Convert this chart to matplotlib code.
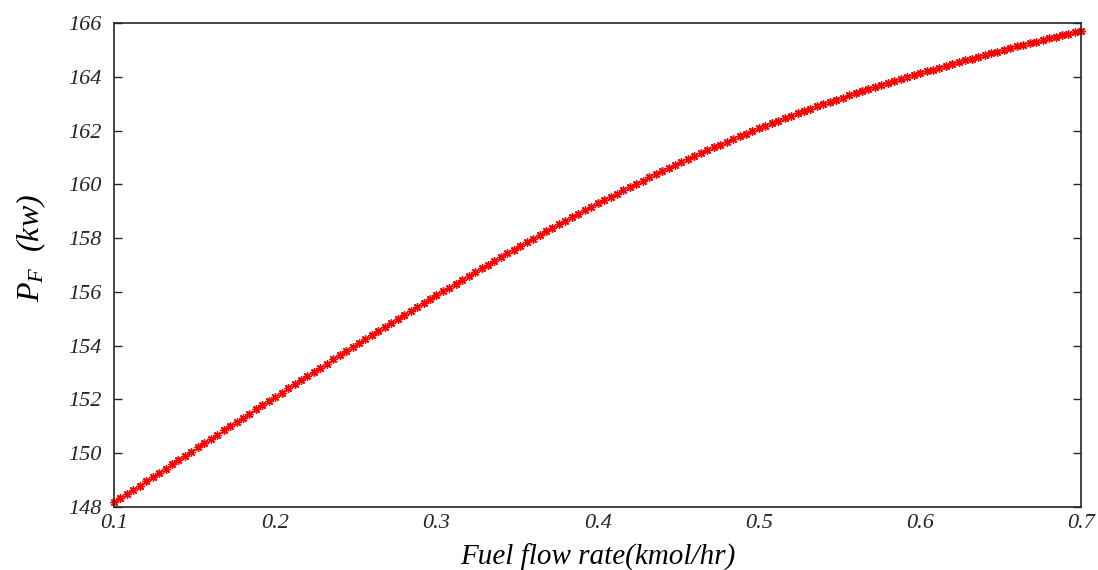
import numpy as np
import matplotlib
matplotlib.use("Agg")
from matplotlib import pyplot as plt

plt.rcParams["font.family"] = "Liberation Serif"
plt.rcParams["font.style"] = "italic"
plt.rcParams["mathtext.fontset"] = "custom"
plt.rcParams["mathtext.it"] = "Liberation Serif:italic"
plt.rcParams["mathtext.rm"] = "Liberation Serif:italic"

# Fuel flow rate from 0.1 to 0.7 kmol/hr, 151 samples
x_start, x_end, n_points = 0.1, 0.7, 151

# P_F (kw)
p_f = [148.17, 148.33, 148.49, 148.64, 148.80,
       148.96, 149.12, 149.28, 149.43, 149.59,
       149.75, 149.91, 150.06, 150.22, 150.38,
       150.54, 150.69, 150.85, 151.00, 151.16,
       151.32, 151.47, 151.63, 151.79, 151.94,
       152.10, 152.25, 152.41, 152.56, 152.72,
       152.87, 153.03, 153.18, 153.33, 153.49,
       153.64, 153.79, 153.94, 154.09, 154.24,
       154.40, 154.55, 154.69, 154.84, 154.99,
       155.14, 155.29, 155.44, 155.58, 155.73,
       155.88, 156.02, 156.16, 156.31, 156.45,
       156.60, 156.74, 156.88, 157.02, 157.16,
       157.30, 157.44, 157.57, 157.71, 157.85,
       157.98, 158.12, 158.25, 158.38, 158.52,
       158.65, 158.78, 158.91, 159.03, 159.16,
       159.29, 159.41, 159.54, 159.66, 159.79,
       159.91, 160.03, 160.14, 160.26, 160.38,
       160.50, 160.61, 160.72, 160.83, 160.95,
       161.06, 161.16, 161.27, 161.38, 161.48,
       161.59, 161.69, 161.79, 161.89, 161.99,
       162.09, 162.18, 162.27, 162.37, 162.46,
       162.55, 162.64, 162.73, 162.81, 162.90,
       162.99, 163.07, 163.15, 163.23, 163.31,
       163.39, 163.47, 163.55, 163.62, 163.70,
       163.78, 163.85, 163.92, 163.99, 164.06,
       164.14, 164.21, 164.27, 164.34, 164.41,
       164.48, 164.55, 164.61, 164.68, 164.75,
       164.81, 164.87, 164.94, 165.00, 165.06,
       165.13, 165.19, 165.25, 165.31, 165.37,
       165.43, 165.49, 165.54, 165.60, 165.66,
       165.72]

x_ticks = [0.1, 0.2, 0.3, 0.4, 0.5, 0.6, 0.7]
y_ticks = [148, 150, 152, 154, 156, 158, 160, 162, 164, 166]

fuel = np.linspace(x_start, x_end, n_points)

fig = plt.figure(figsize=(10.98, 5.70), dpi=100)
ax = fig.add_axes([0.1038, 0.1105, 0.881, 0.849])

ax.plot(fuel, p_f, linestyle="none", marker=(8, 2, 0), markersize=6,
        markeredgewidth=1.0, color="red", clip_on=False)

ax.set_xlim(0.1, 0.7)
ax.set_ylim(148, 166)
ax.set_xticks(x_ticks)
ax.set_yticks(y_ticks)
ax.set_xticklabels([f"{v:g}" for v in x_ticks])
ax.tick_params(axis="y", direction="in", length=6, width=1, right=True,
               labelsize=16, colors="#262626", pad=9)
ax.tick_params(axis="x", direction="in", length=0, labelsize=16,
               colors="#262626", pad=5)
for s in ax.spines.values():
    s.set_linewidth(1.2)
    s.set_color("#262626")

ax.set_xlabel("Fuel flow rate(kmol/hr)", fontsize=21, labelpad=8)
ax.set_ylabel(r"$P_F$  (kw)", fontsize=23)
ax.yaxis.set_label_coords(-0.068, 0.535)

fig.savefig("out.png", dpi=100)
